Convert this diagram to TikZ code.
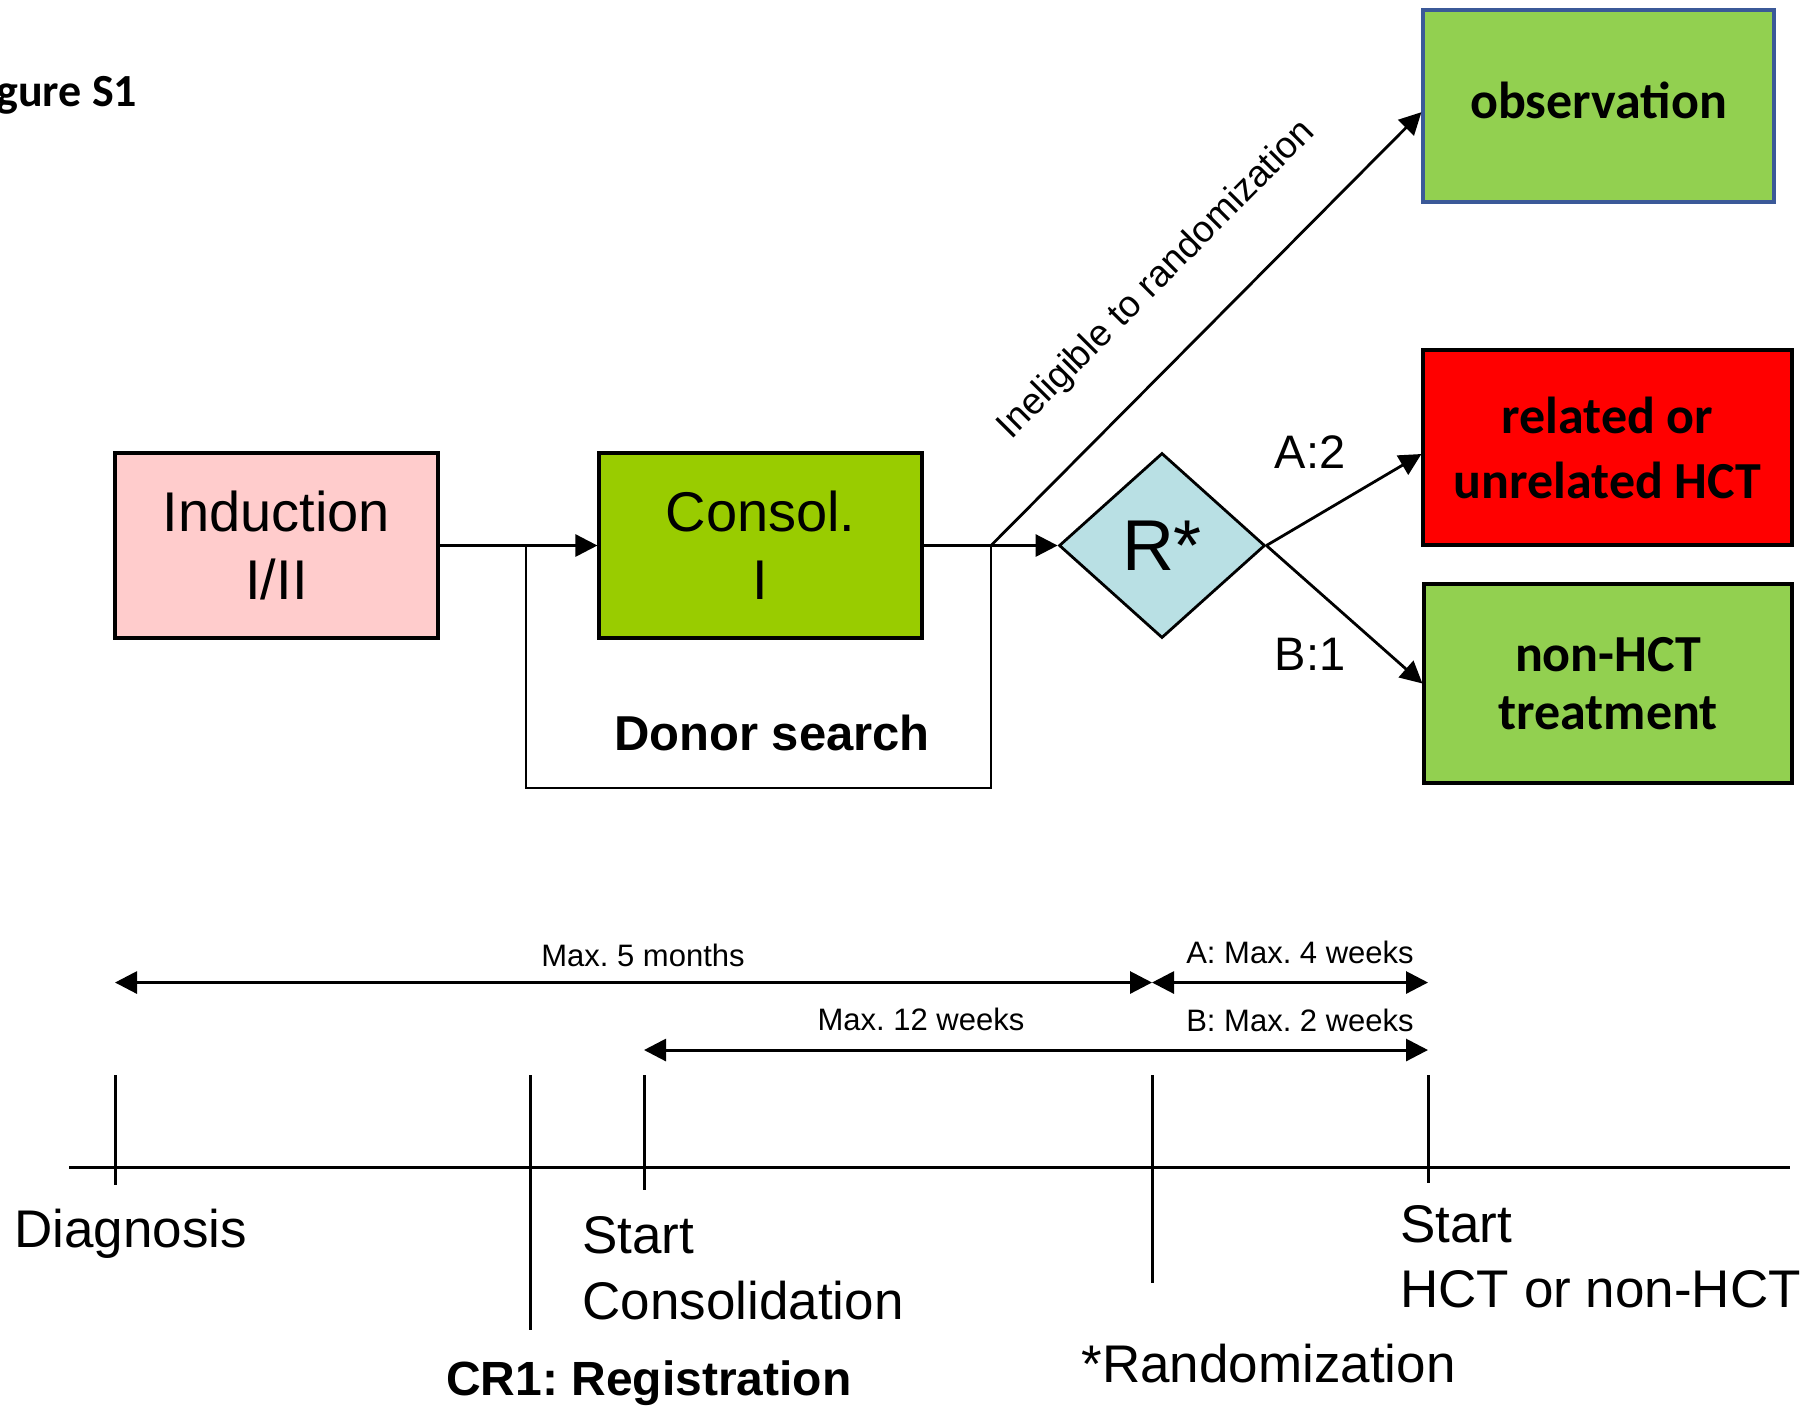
\documentclass[tikz,border=0pt]{standalone}
\usepackage{fontspec}
\setmainfont{Liberation Sans}
\newfontfamily\calibri{Carlito}
\usetikzlibrary{arrows.meta,shapes.geometric}
\frenchspacing

\definecolor{inducpink}{HTML}{FFCCCC}
\definecolor{consgreen}{HTML}{99CC00}
\definecolor{armgreen}{HTML}{92D050}
\definecolor{randblue}{RGB}{185,224,228}
\definecolor{obsline}{RGB}{59,89,152}

\begin{document}
\begin{tikzpicture}[x=0.5pt,y=-0.5pt,>={Triangle[length=11pt,width=11pt]},
    phase/.style={draw,line width=1.6pt,minimum width=161.5pt,minimum height=92.5pt,
      align=center,font=\fontsize{28}{34}\selectfont},
    arm/.style={draw,line width=1.6pt,align=center,
      font=\calibri\bfseries\fontsize{26}{32.5}\selectfont},
    flow/.style={line width=1.4pt},
    tick/.style={line width=1.5pt},
    span/.style={line width=1.5pt,<->},
    small/.style={font=\fontsize{15.5}{18}\selectfont},
    big/.style={inner sep=0pt,align=left,font=\fontsize{26.5}{33}\selectfont}]
  \useasboundingbox (0,0) rectangle (1807,1405);
  \node[anchor=west,inner sep=0pt,font=\calibri\bfseries\fontsize{23}{28}\selectfont] (figname) at (-4,95) {gure S1};

  % treatment phases
  \node[phase,fill=inducpink] (ind) at (276.5,545.5) {Induction\\I/II};
  \node[phase,fill=consgreen] (cons) at (760.5,545.5) {Consol.\\I};
  \node[diamond,draw,flow,fill=randblue,inner sep=0pt,minimum width=103pt,minimum height=92.5pt,
    font=\fontsize{36}{40}\selectfont] (rand) at (1162,545.5) {R*};

  % arms
  \node[arm,draw=obsline,fill=armgreen,minimum width=175.5pt,minimum height=96pt,text depth=6pt] (obs) at (1598.5,106) {observation};
  \node[arm,fill=red,minimum width=184.5pt,minimum height=97.5pt] (hct) at (1607.5,447.5) {related or\\unrelated HCT};
  \node[arm,fill=armgreen,minimum width=184pt,minimum height=99.5pt,
    font=\calibri\bfseries\fontsize{26}{29}\selectfont] (nonhct) at (1608,683.5) {non-HCT\\treatment};

  \draw[flow,->] (ind) -- (cons);
  \draw[flow,->] (cons) -- (rand);
  \coordinate (search) at (526,545.5);
  \coordinate (split) at (991,545.5);
  \draw[flow] (search) -- ++(0,242.5) -| (split);
  \node[font=\bfseries\fontsize{24.5}{28}\selectfont,anchor=base] (donor) at (772,750) {Donor search};
  \draw[flow,->] (split) -- node[pos=0.5,sloped,above=22pt,font=\fontsize{18.6}{22}\selectfont]
    {Ineligible to randomization} (obs.182);
  \draw[flow,->] (rand.east) -- (hct.182.5);
  \draw[flow,->] (rand.east) -- (nonhct.west);
  \node[font=\fontsize{23.5}{28}\selectfont,anchor=base] (ratioA) at (1310,468) {A:2};
  \node[font=\fontsize{23.5}{28}\selectfont,anchor=base] (ratioB) at (1310,670) {B:1};

  % time line
  \draw[tick] (69,1167) -- (1790,1167);
  \foreach \n/\x/\b in {diag/115/1185,reg/530/1330,start1/644/1190,rnd/1152/1283,start2/1428/1183} {
    \coordinate (\n) at (\x,1075);
    \draw[tick] (\n) -- (\x,\b);
  }
  \coordinate (lvA) at (0,982.5);
  \coordinate (lvB) at (0,1050);
  \draw[span] (diag |- lvA) -- (rnd |- lvA);
  \draw[span] (rnd |- lvA) -- (start2 |- lvA);
  \draw[span] (start1 |- lvB) -- (start2 |- lvB);
  \node[small] (max5m) at (643,955) {Max. 5 months};
  \node[small] (max4w) at (1300,952) {A: Max. 4 weeks};
  \node[small] (max12w) at (921,1019) {Max. 12 weeks};
  \node[small] (max2w) at (1300,1020) {B: Max. 2 weeks};

  \node[big,anchor=base west] (diagtxt) at (14,1247) {Diagnosis};
  \node[big,anchor=north west] (constxt) at (582,1216) {Start\\Consolidation};
  \node[inner sep=0pt,anchor=base,font=\bfseries\fontsize{24}{28}\selectfont] (regtxt) at (649,1395) {CR1: Registration};
  \node[big,anchor=base west] (randtxt) at (1081,1382) {*Randomization};
  \node[big,anchor=north west,font=\fontsize{26.5}{32.5}\selectfont] (hcttxt) at (1400,1205) {Start\\HCT or non-HCT};
\end{tikzpicture}
\end{document}
